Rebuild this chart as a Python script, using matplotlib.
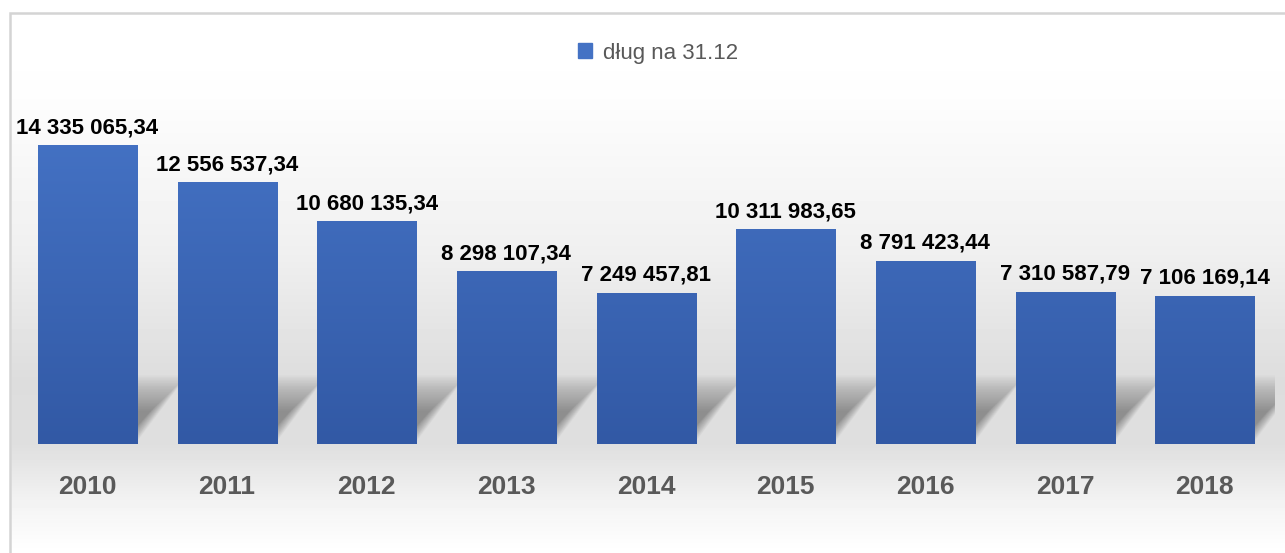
import numpy as np
from matplotlib import pyplot as plt
from matplotlib.colors import LinearSegmentedColormap
from matplotlib.patches import Polygon, Rectangle

years = ["2010", "2011", "2012", "2013", "2014", "2015", "2016", "2017", "2018"]
debt = [14335065.34, 12556537.34, 10680135.34, 8298107.34, 7249457.81,
        10311983.65, 8791423.44, 7310587.79, 7106169.14]
series_label = "dług na 31.12"

W, H = 1285, 553
BAR_W = 0.71
YMAX = 20e6
FONT = "Liberation Sans"

plt.rcParams["font.family"] = [FONT, "DejaVu Sans"]

fig = plt.figure(figsize=(W / 100, H / 100), dpi=100)

# background: soft vertical grey gradient inside a light border
bg = fig.add_axes([0, 0, 1, 1], zorder=-2)
rows = np.arange(H)
shade = np.interp(rows, [0, 90, 250, 380, 445, 500, 540, H],
                  [1.0, 0.995, 0.94, 0.865, 0.875, 0.95, 0.99, 1.0])
img = np.repeat(shade[:, None], 2, axis=1)
bg.imshow(img, cmap="gray", vmin=0, vmax=1, aspect="auto",
          extent=(0, 1, 0, 1), origin="upper")
bg.add_patch(Rectangle((0, 0), 10 / W, 1, color="white", zorder=2))
bg.add_patch(Rectangle((0, 1 - 13 / H), 1, 13 / H, color="white", zorder=2))
bg.add_patch(Rectangle((10 / W, -0.1), 1.2, 1 - 13 / H + 0.1, fill=False,
                       ec="#d4d4d4", lw=1.8, zorder=3))
bg.set_xlim(0, 1)
bg.set_ylim(0, 1)
bg.axis("off")

left = 17.6 / W
ax = fig.add_axes([left, (H - 444) / H, 1257 / W, 417 / H])
ax.patch.set_visible(False)
x = np.arange(len(years))

# blurred cast shadows behind each bar
n_layers = 24
for xi in x:
    x0, x1 = xi - BAR_W / 2, xi + BAR_W / 2
    for k in range(n_layers):
        t = k / (n_layers - 1)
        top = 3.3e6 - 1.7e6 * t
        dx = 0.36 - 0.16 * t
        shrink = 0.10 * t
        poly = Polygon([(x0 + 0.05, 0.1e6), (x1 - shrink, 0.1e6),
                        (x1 + dx - shrink, top), (x0 + dx, top)],
                       closed=True, fc="black", ec="none", alpha=0.017,
                       zorder=1)
        ax.add_patch(poly)

bars = ax.bar(x, debt, width=BAR_W, color="#3b64b4", zorder=2,
              label=series_label)

# vertical gradient fill on bars
cmap = LinearSegmentedColormap.from_list("bluegrad", ["#3259a5", "#4472c4"])
grad = np.linspace(0, 1, 256)[:, None]
for b in bars:
    im = ax.imshow(grad, cmap=cmap, aspect="auto", origin="lower",
                   extent=(b.get_x(), b.get_x() + b.get_width(), 0, 15e6),
                   zorder=3)
    im.set_clip_path(b)

labels = [f"{v:,.2f}".replace(",", " ").replace(".", ",") for v in debt]
ax.bar_label(bars, labels=labels, padding=5, fontsize=16, fontweight="bold",
             color="black", zorder=4)

ax.set_xlim(-0.5, len(years) - 0.5)
ax.set_ylim(0, YMAX)
ax.set_xticks(x, years)
ax.tick_params(axis="x", length=0, pad=22, labelsize=19, labelcolor="#595959")
for lab in ax.get_xticklabels():
    lab.set_fontweight("bold")
ax.set_yticks([])
for s in ax.spines.values():
    s.set_visible(False)

leg = fig.legend(handles=[Rectangle((0, 0), 1, 1, color="#4472c4")],
                 labels=[series_label], loc="center", ncol=1,
                 bbox_to_anchor=(0.512, 1 - 53 / H), frameon=False,
                 fontsize=16, handlelength=0.65, handleheight=0.65,
                 handletextpad=0.5, labelcolor="#595959")

fig.savefig("out.png", dpi=100)
